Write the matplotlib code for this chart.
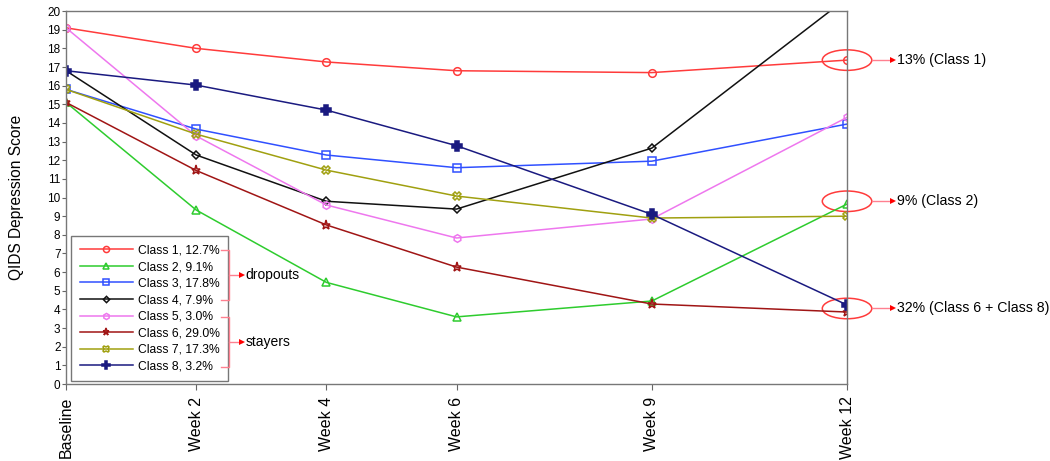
import matplotlib.pyplot as plt
from matplotlib.patches import Ellipse

plt.rcParams['font.family'] = ['Liberation Sans', 'DejaVu Sans']

weeks = [0, 2, 4, 6, 9, 12]
week_labels = ['Baseline', 'Week 2', 'Week 4', 'Week 6', 'Week 9', 'Week 12']

class1 = [19.1, 18.0, 17.27, 16.8, 16.7, 17.37]
class2 = [15.1, 9.33, 5.45, 3.6, 4.45, 9.65]
class3 = [15.8, 13.67, 12.28, 11.6, 11.95, 13.94]
class4 = [16.8, 12.28, 9.8, 9.38, 12.65, 20.7]
class5 = [19.1, 13.3, 9.6, 7.83, 8.85, 14.3]
class6 = [15.1, 11.45, 8.53, 6.27, 4.29, 3.86]
class7 = [15.8, 13.4, 11.47, 10.08, 8.9, 9.0]
class8 = [16.8, 16.03, 14.69, 12.78, 9.1, 4.24]

labels = ['Class 1, 12.7%', 'Class 2, 9.1%', 'Class 3, 17.8%', 'Class 4, 7.9%',
          'Class 5, 3.0%', 'Class 6, 29.0%', 'Class 7, 17.3%', 'Class 8, 3.2%']
callouts = ['13% (Class 1)', '9% (Class 2)', '32% (Class 6 + Class 8)']
callout_y = [17.37, 9.8, 4.05]

series = [class1, class2, class3, class4, class5, class6, class7, class8]
colors = ['#ff3b3b', '#2ecc2e', '#3050ff', '#111111', '#ee77ee', '#a01515', '#a0a010', '#1a1a80']
markers = ['o', '^', 's', 'D', 'h', '*', 'X', 'P']
msizes = [5.5, 5.5, 5.5, 4, 5.5, 6.5, 5.5, 6.5]

fig = plt.figure(figsize=(10.5, 4.61), dpi=100)
ax = fig.add_axes([0.0629, 0.167, 0.7438, 0.809])

for ys, c, m, ms, lab in zip(series, colors, markers, msizes, labels):
    fill = c if m == 'P' else 'none'
    ax.plot(weeks, ys, color=c, lw=1.1, marker=m, ms=ms, mfc=fill, mec=c,
            mew=1.1, label=lab)

ax.set_xlim(0, 12)
ax.set_ylim(0, 20)
ax.set_yticks(range(0, 21))
ax.set_xticks(weeks)
ax.set_xticklabels(week_labels, rotation=90, fontsize=11.5)
ax.tick_params(axis='y', labelsize=8.5, length=3, color='#666666', pad=1)
ax.tick_params(axis='x', length=4, color='#666666', pad=5)
ax.set_ylabel('QIDS Depression Score', fontsize=11.2, labelpad=17)
for s in ax.spines.values():
    s.set_color('#777777')
    s.set_linewidth(1.0)

leg = ax.legend(loc='lower left', bbox_to_anchor=(0.0064, 0.008), borderaxespad=0,
                fontsize=8.7, frameon=True, fancybox=False, edgecolor='#555555',
                handlelength=4.4, labelspacing=0.38, borderpad=0.7,
                handletextpad=0.45, markerscale=0.8)
leg.get_frame().set_linewidth(1.0)

# brackets for dropouts / stayers, placed from the legend text positions
fig.canvas.draw()
inv = fig.transFigure.inverted()
boxes = [inv.transform(t.get_window_extent()) for t in leg.get_texts()]
xr = max(b[1][0] for b in boxes) + 0.001
xb = xr + 0.008
pink = '#ff8090'
for grp, word in [((0, 3), 'dropouts'), ((4, 7), 'stayers')]:
    ya = (boxes[grp[0]][0][1] + boxes[grp[0]][1][1]) / 2
    yb = (boxes[grp[1]][0][1] + boxes[grp[1]][1][1]) / 2
    fig.add_artist(plt.Line2D([xr, xb, xb, xr], [ya, ya, yb, yb], color=pink, lw=1))
    ym = (ya + yb) / 2
    fig.add_artist(plt.Line2D([xb, xb + 0.012], [ym, ym], color=pink, lw=1))
    fig.add_artist(plt.Line2D([xb + 0.012], [ym], marker='>', color='red', ms=5, mew=0))
    fig.text(xb + 0.015, ym, word, fontsize=10, va='center', ha='left')

# callouts at week 12
for y, txt in zip(callout_y, callouts):
    ax.add_patch(Ellipse((12, y), 0.76, 1.1, fill=False, ec='#ff3b3b', lw=1.1, clip_on=False))
    ax.plot([12.38, 12.7], [y, y], color=pink, lw=1, clip_on=False)
    ax.plot([12.7], [y], marker='>', color='red', ms=5, mew=0, clip_on=False)
    ax.text(12.77, y, txt, fontsize=10.2, va='center', ha='left')

fig.savefig('out.png', dpi=100)
